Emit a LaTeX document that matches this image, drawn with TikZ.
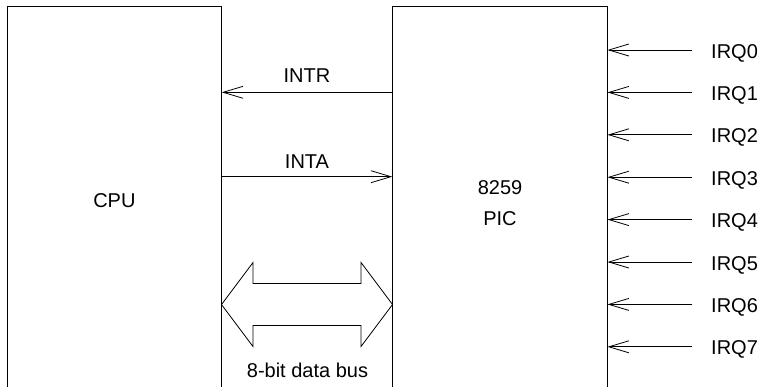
\documentclass[tikz,border=0pt]{standalone}
\usepackage{fontspec}
\setmainfont{Liberation Sans}
\usetikzlibrary{arrows.meta}

\begin{document}
\begin{tikzpicture}[
  x=1pt, y=-1pt,
  every node/.style={font=\fontsize{20}{30.5}\selectfont, inner sep=0pt},
  unit/.style={rectangle, minimum height=380pt, inner sep=0pt},
  sig/.style={-{Straight Barb[length=20pt,width=12pt]}, line width=0.8pt},
  frame/.style={line width=1pt}
]
  \useasboundingbox (0,0) rectangle (760,386);

  % the two chips, open at the bottom
  \node[unit, minimum width=214.2pt] (cpu) at (114.4,197) {};
  \node[unit, minimum width=214.8pt] (pic) at (499.9,197) {};
  \draw[frame] (cpu.south west) |- (cpu.north east) -- (cpu.south east);
  \draw[frame] (pic.south west) |- (pic.north east) -- (pic.south east);

  \node[anchor=base] (cputxt) at (114.4,207) {CPU};
  \node[anchor=north, align=center] (pictxt) at (500,180.5) {8259\\PIC};

  % control lines
  \node[anchor=base] (intr) at (307,82) {INTR};
  \node[anchor=base] (inta) at (307,168) {INTA};
  \coordinate (intrline) at (307,92.3);
  \coordinate (intaline) at (307,176.7);
  \draw[sig] (intrline -| pic.west) -- (intrline -| cpu.east);
  \draw[sig] (intaline -| cpu.east) -- (intaline -| pic.west);

  % data bus
  \draw[line width=0.8pt] (221.5,304.5) -- (253,262.5) -- (253,283.5) -- (361,283.5)
    -- (361,262.5) -- (392.5,304.5) -- (361,346.5) -- (361,325.5) -- (253,325.5)
    -- (253,346.5) -- cycle;
  \node[anchor=base] (bus) at (307.5,377) {8-bit data bus};

  % interrupt requests
  \foreach \i in {0,...,7} {
    \pgfmathsetmacro\yy{50+42.4*\i}
    \coordinate (src\i) at (692,\yy);
    \node[anchor=base west] (irq\i) at (711,\yy+8) {IRQ\i};
    \draw[sig] (src\i) -- (src\i -| pic.east);
  }
\end{tikzpicture}
\end{document}
